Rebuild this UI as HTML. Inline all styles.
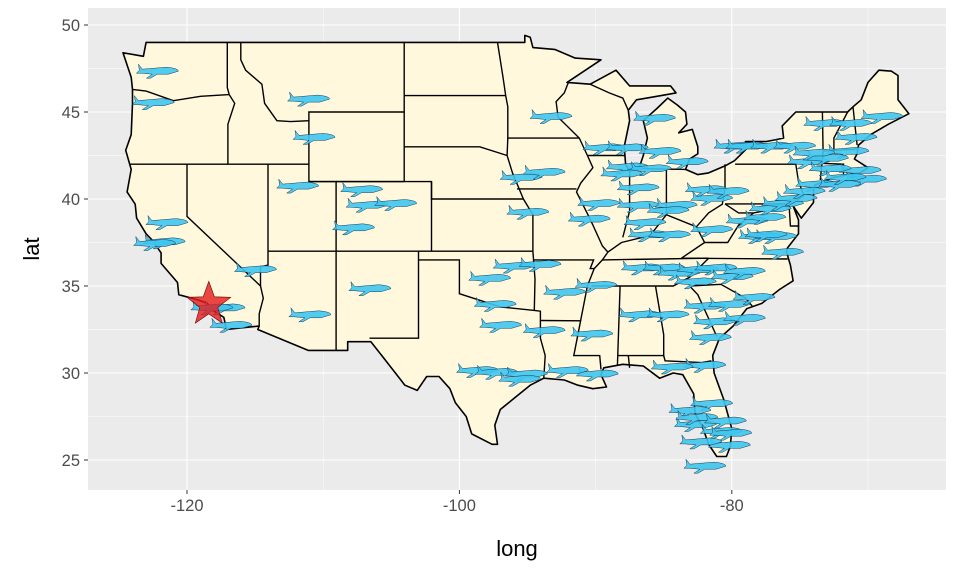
<!DOCTYPE html>
<html><head><meta charset="utf-8"><style>
body{margin:0;background:#fff;font-family:"Liberation Sans",sans-serif}
</style></head><body>
<svg id="chart" width="960" height="576" xmlns="http://www.w3.org/2000/svg">
<rect x="88" y="8" width="858" height="482" fill="#ebebeb"/>
<g id="grid"></g><g id="map"></g><g id="planes"></g><g id="star"></g><g id="axes"></g>
</svg>
<script>
const xTicks=[-120,-100,-80];
const yTicks=[25,30,35,40,45,50];
const origin=[-118.4,33.94];
const airports=[[-122.1,47.4],[-122.4,45.6],[-111.0,45.8],[-110.6,43.6],[-111.8,40.8],[-107.1,40.6],[-106.7,39.7],[-104.6,39.8],[-107.7,38.4],[-121.4,38.7],[-121.6,37.6],[-122.3,37.5],[-114.9,36.0],[-117.2,33.8],[-116.7,32.8],[-110.9,33.4],[-106.5,34.9],[-97.3,34.0],[-97.7,35.5],[-95.9,36.2],[-94.0,36.3],[-93.2,44.8],[-95.4,41.3],[-93.7,41.6],[-94.9,39.3],[-90.4,38.9],[-89.9,35.1],[-98.6,30.2],[-97.2,30.1],[-95.0,30.0],[-95.5,29.7],[-89.8,30.0],[-85.6,44.7],[-89.3,43.0],[-87.6,43.0],[-85.2,42.8],[-83.2,42.2],[-87.6,41.9],[-85.9,41.8],[-86.8,40.7],[-86.8,39.7],[-84.0,39.7],[-81.8,40.6],[-81.4,40.1],[-86.0,38.0],[-86.3,38.7],[-84.6,39.4],[-81.4,38.3],[-86.5,36.1],[-84.9,36.1],[-83.8,35.8],[-82.4,36.0],[-81.1,36.1],[-82.6,35.3],[-79.9,35.6],[-79.0,35.9],[-86.7,33.4],[-84.6,33.4],[-81.9,33.9],[-80.1,34.0],[-78.3,34.4],[-81.2,33.0],[-81.5,32.1],[-79.0,33.2],[-81.9,30.5],[-78.8,38.8],[-77.9,37.9],[-77.1,39.5],[-76.2,39.8],[-75.2,40.1],[-76.7,37.9],[-76.2,37.0],[-77.4,38.0],[-79.7,43.1],[-78.8,43.1],[-77.0,43.1],[-75.3,43.1],[-74.3,42.2],[-73.7,40.9],[-73.1,44.4],[-71.2,44.4],[-68.9,44.8],[-70.8,43.6],[-71.4,42.8],[-72.9,42.4],[-70.5,41.7],[-70.1,41.2],[-72.0,40.9],[-81.4,28.3],[-83.0,27.9],[-82.6,27.1],[-80.7,26.7],[-80.0,26.6],[-80.1,25.9],[-81.9,24.7],[-82.2,26.1],[-84.3,30.4],[-82.5,27.5],[-80.4,27.3],[-72.7,41.8],[-71.6,41.3],[-73.9,42.7],[-74.6,40.5],[-80.2,40.5],[-77.5,39.0],[-84.5,38.0],[-88.0,41.5],[-89.7,39.8],[-90.2,32.3],[-92.2,34.7],[-93.7,32.5],[-92.0,30.2],[-96.9,32.8],[-118.1,33.8]];

const NS='http://www.w3.org/2000/svg';
const X=v=>187+(v+120)*13.62;
const Y=v=>25+(50-v)*17.4;
function mk(tag,attrs,parent){const e=document.createElementNS(NS,tag);for(const k in attrs)e.setAttribute(k,attrs[k]);parent.appendChild(e);return e;}
const grid=document.getElementById('grid');
for(let v=-130;v<=-65;v+=10){const x=X(v);if(x<88||x>946)continue;
 const l=mk('line',{x1:x,x2:x,y1:8,y2:490,stroke:'#fff','stroke-width':v%20===0?1.1:0.5},grid);
 
 }
for(let v=22.5;v<=52.5;v+=2.5){const y=Y(v);if(y<8||y>490)continue;
 const l=mk('line',{x1:88,x2:946,y1:y,y2:y,stroke:'#fff','stroke-width':v%5===0?1.1:0.5},grid);
 
 }

const outline=[[-124.7,48.4],[-123.2,48.2],[-123.0,49.0],[-95.2,49.0],[-95.2,49.4],[-94.8,49.3],[-94.6,48.7],[-93.0,48.6],[-91.5,48.1],[-89.6,48.0],[-92.1,46.7],[-90.4,46.6],[-88.5,47.4],[-87.5,46.5],[-84.5,46.5],[-84.1,46.1],[-85.5,45.9],[-87.0,45.7],[-87.6,45.1],[-87.5,44.5],[-87.9,43.0],[-87.8,42.0],[-87.5,41.6],[-86.8,41.8],[-86.5,42.5],[-86.2,43.5],[-86.5,44.5],[-85.5,45.2],[-84.7,45.8],[-84.0,45.4],[-83.4,45.0],[-83.3,44.3],[-83.9,43.8],[-82.9,44.0],[-82.5,43.0],[-82.5,42.6],[-83.1,42.3],[-83.4,41.7],[-82.5,41.4],[-81.7,41.5],[-80.5,41.9],[-79.8,42.2],[-78.9,42.9],[-79.0,43.3],[-77.5,43.3],[-76.2,43.5],[-76.3,44.2],[-75.3,45.0],[-71.5,45.0],[-71.1,45.3],[-70.5,45.7],[-70.0,46.7],[-69.2,47.4],[-68.3,47.35],[-67.8,47.1],[-67.8,45.7],[-67.0,44.9],[-68.5,44.3],[-69.8,43.7],[-70.7,43.1],[-70.8,42.6],[-71.0,42.3],[-70.0,41.8],[-70.6,41.5],[-71.5,41.4],[-72.5,41.25],[-73.9,40.8],[-74.0,40.5],[-74.0,39.8],[-74.9,38.9],[-75.5,39.6],[-75.1,38.8],[-75.1,38.0],[-75.9,37.2],[-76.0,37.0],[-75.7,36.2],[-75.5,35.3],[-76.5,34.8],[-77.8,34.0],[-78.9,33.7],[-79.9,32.7],[-80.9,32.0],[-81.4,31.0],[-81.3,30.0],[-80.6,28.5],[-80.0,26.8],[-80.1,25.8],[-80.4,25.2],[-81.1,25.2],[-81.7,25.9],[-82.1,26.8],[-82.7,27.7],[-82.8,28.8],[-83.6,29.9],[-84.3,30.0],[-85.3,29.7],[-86.5,30.4],[-88.0,30.5],[-89.4,30.3],[-89.6,29.9],[-89.2,29.2],[-90.2,29.1],[-91.3,29.3],[-92.3,29.6],[-93.8,29.7],[-94.8,29.3],[-95.9,28.6],[-97.0,27.9],[-97.4,27.0],[-97.2,25.9],[-97.6,25.9],[-99.1,26.5],[-99.5,27.5],[-100.3,28.3],[-100.7,29.1],[-101.5,29.8],[-102.4,29.8],[-103.1,29.0],[-104.0,29.3],[-104.7,30.0],[-106.5,31.8],[-108.2,31.8],[-108.2,31.3],[-111.1,31.3],[-114.8,32.5],[-114.7,32.7],[-117.1,32.5],[-117.3,33.2],[-118.3,33.7],[-118.5,34.0],[-119.2,34.2],[-120.6,34.5],[-120.7,35.2],[-121.9,36.3],[-121.9,36.9],[-122.5,37.6],[-123.0,38.0],[-123.7,38.9],[-123.8,39.7],[-124.4,40.4],[-124.1,41.7],[-124.5,42.8],[-124.1,43.7],[-124.0,45.5],[-124.0,46.3],[-124.1,47.0],[-124.7,48.4]];
const borders=[
[[-124.0,46.3],[-123,46.2],[-121,45.65],[-119,45.9],[-116.9,46.0]],
[[-117.04,49],[-117.04,46.4],[-116.9,46.0],[-116.5,45.5],[-117.0,44.3],[-117.0,42.0]],
[[-124.2,42.0],[-111.05,42.0]],
[[-120.0,42],[-120,39],[-114.6,35.0],[-114.4,34.3],[-114.7,33.4],[-114.7,32.7]],
[[-114.05,42],[-114.05,36.2],[-114.6,36.1],[-114.6,35.0]],
[[-116.05,49],[-116.05,48],[-115.7,47.4],[-114.5,46.6],[-114.3,45.5],[-113.4,44.5],[-112.4,44.45],[-111.05,44.5],[-111.05,45],[-104.05,45]],
[[-111.05,44.5],[-111.05,41],[-104.05,41]],
[[-111.05,41],[-109.05,41],[-109.05,31.3]],
[[-114.05,37],[-102.05,37],[-94.6,37]],
[[-109.05,41],[-102.05,41],[-102.05,37]],
[[-103.0,37],[-103.0,32.0],[-106.6,32.0]],
[[-103,36.5],[-100,36.5],[-100,34.56],[-97,33.8],[-94.5,33.6],[-94.05,33.55],[-94.05,32],[-93.7,31],[-93.8,29.7]],
[[-94.6,37],[-94.45,35.4],[-94.5,33.6]],
[[-94.05,33.02],[-91.1,33.0],[-91.6,31.0],[-89.7,31.0],[-89.6,30.2]],
[[-104.05,49],[-104.05,41]],
[[-104.05,45.94],[-96.6,45.94]],
[[-104.05,43],[-98.5,43],[-96.5,42.5],[-96.1,41.5],[-95.3,40],[-94.6,39.1],[-94.6,37]],
[[-102.05,41],[-102.05,40],[-95.3,40]],
[[-97.2,49],[-96.8,47],[-96.6,45.94],[-96.45,45.3],[-96.45,43.5],[-91.2,43.5]],
[[-96.45,43.5],[-96.5,42.5]],
[[-92.0,46.7],[-92.3,46.1],[-92.9,45.6],[-92.75,44.7],[-91.2,43.5],[-90.6,42.5],[-90.2,41.8],[-91.1,40.9],[-91.4,40.4],[-90.5,39.0],[-90.2,38.5],[-89.5,37.3],[-89.1,36.95],[-89.5,36.5],[-90.1,36.0],[-90.6,35.0],[-91.1,33.0]],
[[-95.77,40.58],[-91.4,40.58]],
[[-94.6,36.5],[-90.15,36.5],[-90.4,36.0],[-90.1,36.0]],
[[-90.6,42.5],[-87.8,42.5]],
[[-90.4,46.6],[-89.0,46.1],[-88.0,45.8],[-87.6,45.1]],
[[-88.2,35.0],[-88.4,30.4]],
[[-90.3,35.0],[-84.3,35.0],[-83.1,35.5],[-81.7,36.6]],
[[-89.5,36.5],[-81.7,36.6]],
[[-89.1,36.95],[-88.1,37.5],[-86,37.9],[-84.8,39.1],[-82.6,38.4],[-82,37.5],[-83.7,36.6]],
[[-87.5,41.7],[-87.5,39.3],[-88.0,37.8]],
[[-84.8,41.7],[-84.8,39.1]],
[[-87.5,41.76],[-83.4,41.7]],
[[-80.5,42],[-80.5,40.6],[-80.7,39.7],[-81.7,39.2],[-82.6,38.4]],
[[-79.76,42],[-75.3,42],[-75.1,41],[-74.7,40.2],[-75.5,39.8]],
[[-80.5,39.72],[-75.8,39.72],[-75.7,38.45],[-75.05,38.45]],
[[-80.5,39.72],[-79.5,39.2],[-78.4,39.2],[-77.7,39.3]],
[[-82,37.5],[-80.3,37.5],[-79.5,38.5],[-78.4,39.2]],
[[-83.7,36.6],[-75.9,36.55]],
[[-83.1,35.0],[-80.8,35.1],[-79,34.3],[-78.5,33.85]],
[[-83.1,35.0],[-82.5,34.5],[-81.1,32.1]],
[[-85.6,35.0],[-85.0,32.2],[-85.0,31.0],[-84.9,30.7],[-82.2,30.6],[-81.5,30.7]],
[[-88.4,31.0],[-85.0,31.0]],[[-87.6,31.0],[-87.5,30.3]],
[[-73.35,45.0],[-73.3,42.7],[-73.5,41.1]],
[[-73.5,42.05],[-71.8,42.0],[-71.8,41.3]],
[[-73.25,42.75],[-70.8,42.87]],
[[-71.5,45.0],[-72.5,43.5],[-72.5,42.75]],
[[-71.1,45.3],[-70.8,43.1]]];
const map=document.getElementById('map');
const pts=a=>a.map(p=>X(p[0]).toFixed(1)+','+Y(p[1]).toFixed(1)).join(' ');
const us=mk('polygon',{points:pts(outline),fill:'#fff8dc',stroke:'#000','stroke-width':1.6,'stroke-linejoin':'round'},map);


borders.forEach(b=>{const l=mk('polyline',{points:pts(b),fill:'none',stroke:'#000','stroke-width':1.4},map);
 
 });

const planes=document.getElementById('planes');
const planeD='M-20,-6 L-16,-1 L8,-3 Q20,-2 20,1 L10,4 L-1,4 L-8,8 L-12,8 L-6,4 L-17,3 L-22,3 L-19,0 Z';
airports.forEach(a=>{const p=mk('path',{d:planeD,transform:`translate(${X(a[0]).toFixed(1)},${Y(a[1]).toFixed(1)})`,fill:'#3ec6f0','fill-opacity':0.9,stroke:'#1a3a5a','stroke-width':0.5},planes);
 
 });

const sg=document.getElementById('star');
let sp=[];for(let i=0;i<10;i++){const r=i%2?9.5:23,t=-Math.PI/2+i*Math.PI/5;sp.push((X(origin[0])+r*Math.cos(t)).toFixed(1)+','+(Y(origin[1])+r*Math.sin(t)).toFixed(1));}
const st=mk('polygon',{points:sp.join(' '),fill:'#e41a1c','fill-opacity':0.8,stroke:'#600','stroke-width':0.6},sg);



const ax=document.getElementById('axes');
xTicks.forEach(v=>{const x=X(v);
 mk('line',{x1:x,x2:x,y1:490,y2:494,stroke:'#333'},ax);
 const t=mk('text',{x:x,y:511,'text-anchor':'middle','font-size':16.5,fill:'#4d4d4d'},ax);t.textContent=v;
 
 });
yTicks.forEach(v=>{const y=Y(v);
 mk('line',{x1:84,x2:88,y1:y,y2:y,stroke:'#333'},ax);
 const t=mk('text',{x:80,y:y+6,'text-anchor':'end','font-size':16.5,fill:'#4d4d4d'},ax);t.textContent=v;
 
 });
const xt=mk('text',{x:517,y:556,'text-anchor':'middle','font-size':22,fill:'#000'},ax);xt.textContent='long';


const yt=mk('text',{x:0,y:0,transform:'translate(39,249) rotate(-90)','text-anchor':'middle','font-size':22,fill:'#000'},ax);yt.textContent='lat';


</script>
</body></html>
